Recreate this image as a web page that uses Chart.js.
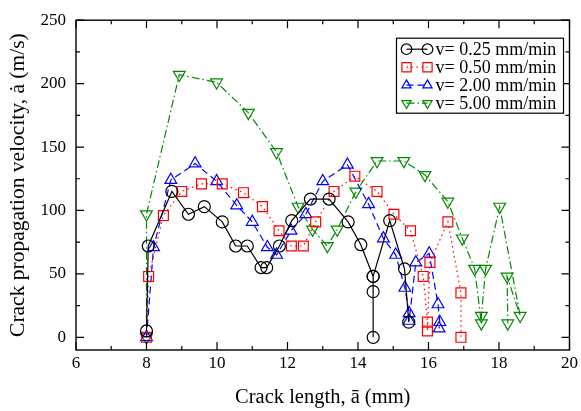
<!DOCTYPE html>
<html><head><meta charset="utf-8">
<script src="https://cdn.jsdelivr.net/npm/chart.js@4/dist/chart.umd.min.js"></script>
<style>html,body{margin:0;padding:0;background:#fff}canvas{display:block}</style>
</head><body>
<canvas id="c" width="581" height="411"></canvas>
<script>
// ---- data ----
const seriesLabels = ['v= 0.25 mm/min', 'v= 0.50 mm/min', 'v= 2.00 mm/min', 'v= 5.00 mm/min'];
const xTicks = [6, 8, 10, 12, 14, 16, 18, 20];
const yTicks = [0, 50, 100, 150, 200, 250];

const len025 = [8.0, 8.05, 8.72, 9.19, 9.64, 10.15, 10.53, 10.86, 11.25, 11.41, 11.77, 12.12, 12.65, 13.18, 13.72, 14.08, 14.43, 14.43, 14.43, 14.43, 14.9, 15.32, 15.44];
const vel025 = [5, 72, 115, 97, 103, 91, 72, 72, 55, 55, 72, 92, 109, 109, 91, 73, 48, 36, 0, 48, 92, 54, 12];

const len050 = [8.0, 8.06, 8.48, 9.0, 9.56, 10.15, 10.75, 11.29, 11.76, 12.11, 12.45, 12.8, 13.32, 13.91, 14.54, 15.02, 15.49, 15.85, 15.97, 15.97, 16.04, 16.55, 16.92, 16.92];
const vel050 = [0, 48, 96, 115, 121, 121, 114, 103, 84, 72, 72, 91, 115, 127, 115, 97, 84, 48, 12, 5, 59, 91, 35, 0];

const len200 = [8.0, 8.2, 8.69, 9.38, 9.99, 10.56, 11.0, 11.43, 11.69, 12.1, 12.52, 13.0, 13.7, 14.3, 14.72, 15.07, 15.33, 15.45, 15.45, 15.64, 16.02, 16.27, 16.32, 16.3];
const vel200 = [0, 71, 124, 137, 123, 104, 91, 71, 65, 84, 97, 123, 136, 105, 78, 65, 39, 19, 13, 59, 66, 26, 12, 7];

const len500 = [8.0, 8.0, 8.93, 9.99, 10.89, 11.69, 12.3, 12.71, 13.13, 13.41, 13.94, 14.54, 15.3, 15.9, 16.55, 16.96, 17.31, 17.5, 17.5, 17.62, 18.02, 18.6, 18.23, 18.25];
const vel500 = [0, 97, 207, 201, 177, 146, 103, 85, 72, 85, 115, 139, 139, 128, 107, 78, 54, 11, 17, 54, 103, 17, 48, 11];

// ---- build ----
const pts = (xs, ys) => xs.map((x, i) => ({x: x, y: ys[i]}));
const colors = ['#000000', '#ff0000', '#0000ff', '#008a00'];
const dashes = [[], [1.5, 3.5], [7, 4], [8, 3, 1.5, 3]];
const styles = ['circle', 'rect', 'triangle', 'triangle'];
const rots = [0, 0, 0, 180];
const radii = [6, 7, 6.8, 6.8];
const lens = [len025, len050, len200, len500];
const vels = [vel025, vel050, vel200, vel500];

const datasets = seriesLabels.map((lab, i) => ({
  label: lab,
  data: pts(lens[i], vels[i]),
  showLine: true,
  borderColor: colors[i],
  borderWidth: 1.2,
  borderDash: dashes[i],
  tension: 0,
  fill: false,
  pointStyle: styles[i],
  rotation: rots[i],
  pointRadius: radii[i],
  pointHoverRadius: radii[i],
  pointBorderWidth: 1.2,
  pointBorderColor: colors[i],
  pointBackgroundColor: 'rgba(0,0,0,0)'
}));

const SERIF = '"Liberation Serif", "DejaVu Serif", serif';

function drawMarker(ctx, style, rot, x, y, r) {
  ctx.beginPath();
  if (style === 'circle') {
    ctx.arc(x, y, r, 0, Math.PI * 2);
  } else if (style === 'rect') {
    const s = r * Math.SQRT1_2;
    ctx.rect(x - s, y - s, 2 * s, 2 * s);
  } else {
    const a = rot ? Math.PI / 2 : -Math.PI / 2;
    for (let k = 0; k < 3; k++) {
      const t = a + k * 2 * Math.PI / 3;
      const px = x + Math.cos(t) * r, py = y + Math.sin(t) * r;
      if (k === 0) ctx.moveTo(px, py); else ctx.lineTo(px, py);
    }
    ctx.closePath();
  }
  ctx.stroke();
}

const framePlugin = {
  id: 'frame',
  afterDatasetsDraw(chart) {
    const {ctx, chartArea: a, scales: {x, y}} = chart;
    ctx.save();
    ctx.strokeStyle = '#000';
    ctx.lineWidth = 1.4;
    ctx.setLineDash([]);
    ctx.strokeRect(a.left, a.top, a.right - a.left, a.bottom - a.top);
    ctx.lineWidth = 1.2;
    ctx.beginPath();
    for (let v = 6; v <= 20; v += 1) {
      const px = x.getPixelForValue(v);
      const L = (v % 2 === 0) ? 8 : 4;
      ctx.moveTo(px, a.bottom); ctx.lineTo(px, a.bottom - L);
      ctx.moveTo(px, a.top); ctx.lineTo(px, a.top + L);
    }
    for (let v = 0; v <= 250; v += 25) {
      const py = y.getPixelForValue(v);
      const L = (v % 50 === 0) ? 8 : 4;
      ctx.moveTo(a.left, py); ctx.lineTo(a.left + L, py);
      ctx.moveTo(a.right, py); ctx.lineTo(a.right - L, py);
    }
    ctx.stroke();
    ctx.restore();
  },
  afterDraw(chart) {
    const {ctx, chartArea: a} = chart;
    const bx = a.right - 173, by = a.top + 18, bw = 167, bh = 75;
    ctx.save();
    ctx.fillStyle = '#fff';
    ctx.fillRect(bx, by, bw, bh);
    ctx.strokeStyle = '#000';
    ctx.lineWidth = 1.2;
    ctx.setLineDash([]);
    ctx.strokeRect(bx, by, bw, bh);
    chart.data.datasets.forEach((ds, i) => {
      const yy = by + 11 + i * 18;
      const x1 = bx + 10, x2 = bx + 31;
      ctx.strokeStyle = colors[i];
      ctx.lineWidth = 1.2;
      ctx.setLineDash(dashes[i]);
      ctx.beginPath(); ctx.moveTo(x1, yy); ctx.lineTo(x2, yy); ctx.stroke();
      ctx.setLineDash([]);
      drawMarker(ctx, styles[i], rots[i], x1, yy, i === 1 ? 6.5 : 5.3);
      drawMarker(ctx, styles[i], rots[i], x2, yy, i === 1 ? 6.5 : 5.3);
      ctx.fillStyle = '#000';
      ctx.font = '18px ' + SERIF;
      ctx.textBaseline = 'middle';
      ctx.textAlign = 'left';
      ctx.fillText(ds.label, bx + 39, yy + 1);
    });
    ctx.restore();
  }
};

new Chart(document.getElementById('c'), {
  type: 'scatter',
  data: {datasets: datasets},
  options: {
    responsive: false,
    animation: false,
    devicePixelRatio: 1,
    layout: {padding: {top: 16, right: 11, left: 0, bottom: 0}},
    plugins: {legend: {display: false}, tooltip: {enabled: false}},
    scales: {
      x: {
        type: 'linear', min: 6, max: 20,
        afterBuildTicks: s => { s.ticks = xTicks.map(v => ({value: v})); },
        afterFit: s => { s.height = 61; },
        grid: {display: false, drawTicks: false},
        border: {display: false},
        ticks: {color: '#000', padding: 3, font: {family: SERIF, size: 17}},
        title: {display: true, text: 'Crack length, ā (mm)', color: '#000', font: {family: SERIF, size: 20.5}, padding: {top: 0, bottom: 1}}
      },
      y: {
        type: 'linear', min: -10, max: 250,
        afterBuildTicks: s => { s.ticks = yTicks.map(v => ({value: v})); },
        afterFit: s => { s.width = 76; },
        grid: {display: false, drawTicks: false},
        border: {display: false},
        ticks: {color: '#000', padding: 10, font: {family: SERIF, size: 17}},
        title: {display: true, text: 'Crack propagation velocity, ȧ (m/s)', color: '#000', font: {family: SERIF, size: 21.5}, padding: {top: 5, bottom: 0}}
      }
    }
  },
  plugins: [framePlugin]
});
</script>
</body></html>
